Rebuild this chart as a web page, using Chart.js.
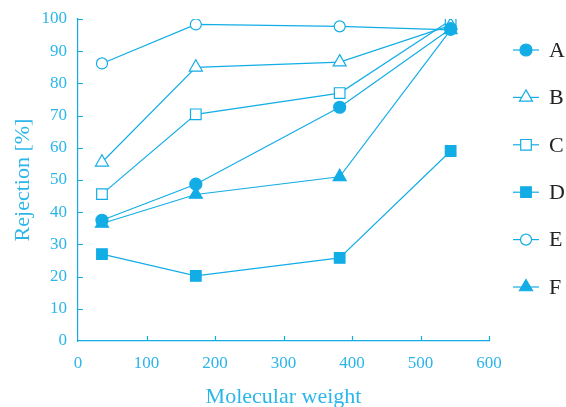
<!DOCTYPE html>
<html>
<head>
<meta charset="utf-8">
<script src="https://cdn.jsdelivr.net/npm/chart.js@4/dist/chart.umd.min.js"></script>
<style>
  html, body { margin: 0; padding: 0; background: #fff; }
  #wrap { width: 566px; height: 407px; }
</style>
</head>
<body>
<div id="wrap"><canvas id="chart"></canvas></div>
<script>
// data
const weights = [35, 172, 382, 544];
const seriesNames = ["A", "B", "C", "D", "E", "F"];
const rejA = [37.5, 48.7, 72.6, 97];
const rejB = [55.5, 85, 86.6, 98];
const rejC = [45.6, 70.4, 77, 99.6];
const rejD = [27, 20.2, 25.8, 59];
const rejE = [86.2, 98.3, 97.7, 96.6];
const rejF = [36.5, 45.5, 51, 96.6];
const xTicks = [0, 100, 200, 300, 400, 500, 600];
const yTicks = [0, 10, 20, 30, 40, 50, 60, 70, 80, 90, 100];

const blue = "#13ade6";
const labelBlue = "#2bb6ea";
const serif = "'Liberation Serif', 'Times New Roman', serif";

const styles = [
  { pointStyle: "circle", fill: true, r: 6 },
  { pointStyle: "triangle", fill: false, r: 7.5 },
  { pointStyle: "rect", fill: false, r: 7.5 },
  { pointStyle: "rect", fill: true, r: 7.5 },
  { pointStyle: "circle", fill: false, r: 5.5 },
  { pointStyle: "triangle", fill: true, r: 7.5 },
];
const values = [rejA, rejB, rejC, rejD, rejE, rejF];

const datasets = seriesNames.map((name, i) => ({
  label: name,
  data: weights.map((w, j) => ({ x: w, y: values[i][j] })),
  borderColor: blue,
  borderWidth: 1.2,
  pointStyle: styles[i].pointStyle,
  pointRadius: styles[i].r,
  pointBorderWidth: 1.2,
  pointBackgroundColor: styles[i].fill ? blue : "#fff",
  pointBorderColor: blue,
  fill: false,
  tension: 0,
}));

// inward tick marks
const innerTicks = {
  id: "innerTicks",
  beforeDatasetsDraw(chart) {
    const { ctx, scales: { x, y } } = chart;
    ctx.save();
    ctx.strokeStyle = blue;
    ctx.lineWidth = 1.2;
    ctx.beginPath();
    xTicks.slice(1).forEach(v => {
      const px = Math.round(x.getPixelForValue(v)) + 0.5;
      ctx.moveTo(px, y.bottom);
      ctx.lineTo(px, y.bottom - 5);
    });
    yTicks.slice(1).forEach(v => {
      const py = Math.round(y.getPixelForValue(v)) + 0.5;
      ctx.moveTo(x.left, py);
      ctx.lineTo(x.left + 5, py);
    });
    ctx.stroke();
    ctx.restore();
  },
};

// legend on the right: line sample with marker, then letter
const sideLegend = {
  id: "sideLegend",
  afterDraw(chart) {
    const ctx = chart.ctx;
    ctx.save();
    chart.data.datasets.forEach((ds, i) => {
      const cy = 50 + i * 47.4;
      ctx.strokeStyle = blue;
      ctx.lineWidth = 1.2;
      ctx.beginPath();
      ctx.moveTo(513, cy);
      ctx.lineTo(539, cy);
      ctx.stroke();
      ctx.fillStyle = ds.pointBackgroundColor;
      Chart.helpers.drawPoint(ctx, {
        pointStyle: ds.pointStyle,
        radius: ds.pointRadius,
        borderWidth: 1.2,
        rotation: 0,
      }, 526, cy);
      ctx.fillStyle = "#222";
      ctx.font = "22px " + serif;
      ctx.textBaseline = "middle";
      ctx.fillText(ds.label, 549, cy + 1);
    });
    ctx.restore();
  },
};

function draw() {
  new Chart(document.getElementById("chart"), {
    type: "line",
    data: { datasets },
    options: {
      responsive: true,
      maintainAspectRatio: false,
      animation: false,
      layout: { padding: { top: 19, right: 77, left: 0, bottom: 0 } },
      plugins: {
        legend: { display: false },
        tooltip: { enabled: false },
      },
      scales: {
        x: {
          type: "linear",
          min: 0,
          max: 600,
          afterBuildTicks: (s) => { s.ticks = xTicks.map(v => ({ value: v })); },
          afterFit: (s) => { s.height = 66; },
          grid: { display: false },
          border: { display: true, color: blue, width: 1.2 },
          ticks: {
            color: labelBlue,
            padding: 4,
            font: { family: serif, size: 17 },
          },
          title: {
            display: true,
            text: "Molecular weight",
            color: labelBlue,
            padding: { top: 18, bottom: -3 },
            font: { family: serif, size: 22 },
          },
        },
        y: {
          min: 0,
          max: 100,
          afterBuildTicks: (s) => { s.ticks = yTicks.map(v => ({ value: v })); },
          afterFit: (s) => { s.width = 78; },
          grid: { display: false },
          border: { display: true, color: blue, width: 1.2 },
          ticks: {
            color: labelBlue,
            padding: 3,
            font: { family: serif, size: 17 },
          },
          title: {
            display: true,
            text: "Rejection [%]",
            color: labelBlue,
            padding: { top: 10, bottom: 0 },
            font: { family: serif, size: 22 },
          },
        },
      },
    },
    plugins: [innerTicks, sideLegend],
  });
}

Promise.all([
  document.fonts.load("17px 'Liberation Serif'"),
  document.fonts.load("22px 'Liberation Serif'"),
]).then(draw, draw);
</script>
</body>
</html>
